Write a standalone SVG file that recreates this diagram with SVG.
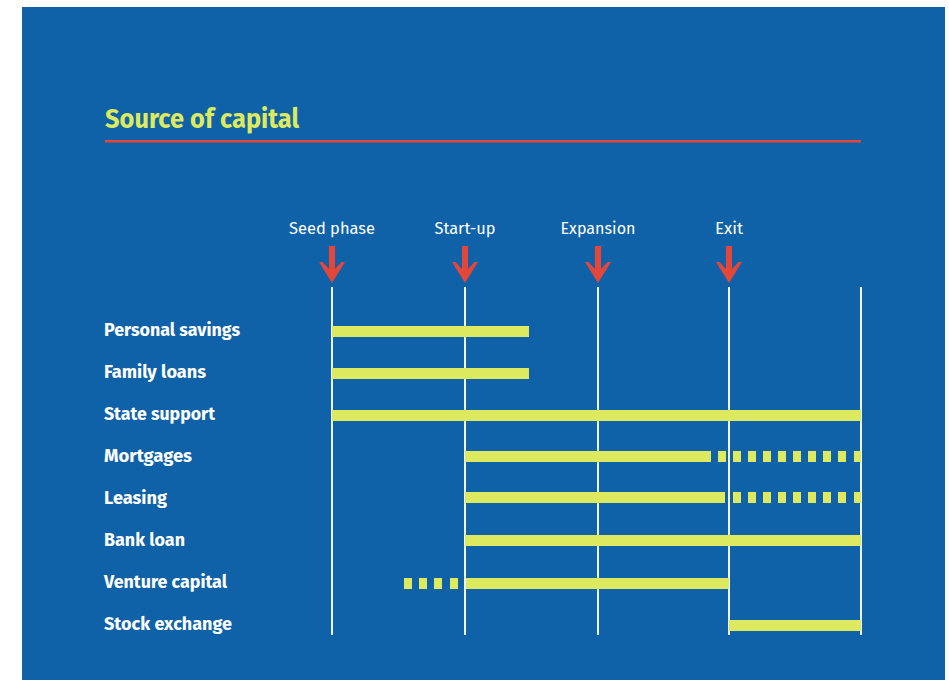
<svg xmlns="http://www.w3.org/2000/svg" width="949" height="680" viewBox="0 0 949 680">
<defs>
<style>
.bg{fill:#0f61a8}
.title{font-family:"Fira Sans","Roboto","Liberation Sans",sans-serif;font-weight:bold;font-size:28px;fill:#dde95e}
.lbl{font-family:"Fira Sans","Roboto","Liberation Sans",sans-serif;font-weight:bold;font-size:18px;fill:#ffffff}
.hdr{font-family:"Fira Sans","Roboto","Liberation Sans",sans-serif;font-size:16.5px;fill:#ffffff;text-anchor:middle}
.bar{fill:#dde95e}
.vl{stroke:#eef4fb;stroke-width:2;fill:none}
.arr{fill:#e5463a}
</style>
<path id="arrow" d="M-3,0 H3 V23 L9.5,16 H13 L0,37 L-13,16 H-9.5 L-3,23 Z"/>
</defs>
<rect x="0" y="0" width="949" height="680" fill="#ffffff"/>
<rect class="bg" x="22" y="7" width="923" height="673"/>
<g id="title">
<text class="title" x="105" y="128" textLength="194" lengthAdjust="spacingAndGlyphs">Source of capital</text>
<rect x="105" y="140" width="756" height="2.5" fill="#e5463a"/>
</g>
<g id="connectors">
<line class="vl" x1="332" y1="287" x2="332" y2="635"/>
<line class="vl" x1="465" y1="287" x2="465" y2="635"/>
<line class="vl" x1="598" y1="287" x2="598" y2="635"/>
<line class="vl" x1="729" y1="287" x2="729" y2="635"/>
<line class="vl" x1="861" y1="287" x2="861" y2="635"/>
</g>
<g id="phase-seed">
<text class="hdr" x="332" y="234" textLength="86" lengthAdjust="spacingAndGlyphs">Seed phase</text>
<use href="#arrow" class="arr" x="332" y="246"/>
</g>
<g id="phase-startup">
<text class="hdr" x="465" y="234" textLength="61" lengthAdjust="spacingAndGlyphs">Start-up</text>
<use href="#arrow" class="arr" x="465" y="246"/>
</g>
<g id="phase-expansion">
<text class="hdr" x="598" y="234" textLength="75" lengthAdjust="spacingAndGlyphs">Expansion</text>
<use href="#arrow" class="arr" x="598" y="246"/>
</g>
<g id="phase-exit">
<text class="hdr" x="729" y="234" textLength="28" lengthAdjust="spacingAndGlyphs">Exit</text>
<use href="#arrow" class="arr" x="729" y="246"/>
</g>
<g id="row-personal-savings">
<text class="lbl" x="104" y="336" textLength="136" lengthAdjust="spacingAndGlyphs">Personal savings</text>
<rect class="bar" x="332" y="326" width="197" height="11"/>
</g>
<g id="row-family-loans">
<text class="lbl" x="104" y="378" textLength="102" lengthAdjust="spacingAndGlyphs">Family loans</text>
<rect class="bar" x="332" y="368" width="197" height="11"/>
</g>
<g id="row-state-support">
<text class="lbl" x="104" y="420" textLength="111" lengthAdjust="spacingAndGlyphs">State support</text>
<rect class="bar" x="332" y="410" width="529" height="11"/>
</g>
<g id="row-mortgages">
<text class="lbl" x="104" y="462" textLength="88" lengthAdjust="spacingAndGlyphs">Mortgages</text>
<rect class="bar" x="465" y="451" width="246" height="11"/>
<rect class="bar" x="718" y="451" width="8" height="11"/>
<rect class="bar" x="733" y="451" width="8" height="11"/>
<rect class="bar" x="748" y="451" width="8" height="11"/>
<rect class="bar" x="763" y="451" width="8" height="11"/>
<rect class="bar" x="778" y="451" width="8" height="11"/>
<rect class="bar" x="793" y="451" width="8" height="11"/>
<rect class="bar" x="808" y="451" width="8" height="11"/>
<rect class="bar" x="823" y="451" width="8" height="11"/>
<rect class="bar" x="838" y="451" width="8" height="11"/>
<rect class="bar" x="854" y="451" width="7" height="11"/>
</g>
<g id="row-leasing">
<text class="lbl" x="104" y="504" textLength="63" lengthAdjust="spacingAndGlyphs">Leasing</text>
<rect class="bar" x="465" y="492" width="260" height="11"/>
<rect class="bar" x="733" y="492" width="8" height="11"/>
<rect class="bar" x="748" y="492" width="8" height="11"/>
<rect class="bar" x="763" y="492" width="8" height="11"/>
<rect class="bar" x="778" y="492" width="8" height="11"/>
<rect class="bar" x="793" y="492" width="8" height="11"/>
<rect class="bar" x="808" y="492" width="8" height="11"/>
<rect class="bar" x="823" y="492" width="8" height="11"/>
<rect class="bar" x="838" y="492" width="8" height="11"/>
<rect class="bar" x="854" y="492" width="7" height="11"/>
</g>
<g id="row-bank-loan">
<text class="lbl" x="104" y="546" textLength="81" lengthAdjust="spacingAndGlyphs">Bank loan</text>
<rect class="bar" x="465" y="535" width="396" height="11"/>
</g>
<g id="row-venture-capital">
<text class="lbl" x="104" y="588" textLength="123" lengthAdjust="spacingAndGlyphs">Venture capital</text>
<rect class="bar" x="404" y="578" width="8" height="11"/>
<rect class="bar" x="419" y="578" width="8" height="11"/>
<rect class="bar" x="434" y="578" width="8" height="11"/>
<rect class="bar" x="450" y="578" width="8" height="11"/>
<rect class="bar" x="466" y="578" width="263" height="11"/>
</g>
<g id="row-stock-exchange">
<text class="lbl" x="104" y="630" textLength="128" lengthAdjust="spacingAndGlyphs">Stock exchange</text>
<rect class="bar" x="729" y="620" width="132" height="11"/>
</g>
</svg>
